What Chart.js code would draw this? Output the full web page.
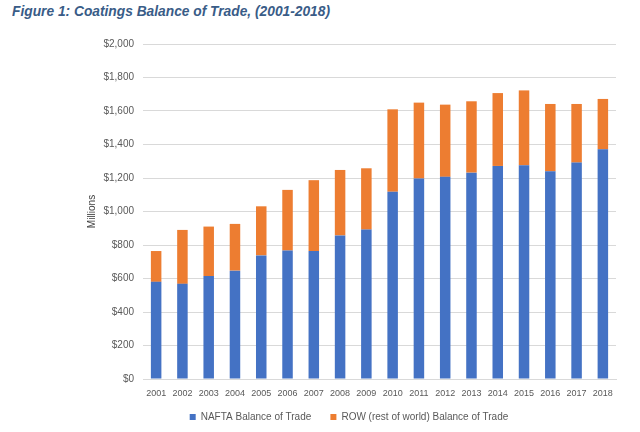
<!DOCTYPE html>
<html>
<head>
<meta charset="utf-8">
<script src="https://cdn.jsdelivr.net/npm/chart.js@4.4.1/dist/chart.umd.min.js"></script>
<style>
  html, body { margin: 0; padding: 0; background: #ffffff; }
  #wrap { position: relative; width: 640px; height: 432px; overflow: hidden; }
  #title {
    position: absolute; left: 12px; top: 2px;
    font-family: "Liberation Sans", Arial, sans-serif;
    font-weight: bold; font-style: italic; font-size: 15px; color: #395C87;
    white-space: nowrap; transform-origin: 0 0;
  }
  canvas { position: absolute; left: 0; top: 0; }
</style>
</head>
<body>
<div id="wrap">
  <span id="title">Figure 1: Coatings Balance of Trade, (2001-2018)</span>
  <canvas id="c" width="640" height="432"></canvas>
</div>
<script>
const years = ["2001","2002","2003","2004","2005","2006","2007","2008","2009","2010","2011","2012","2013","2014","2015","2016","2017","2018"];
const naftaBalance = [580, 568, 615, 647, 738, 767, 764, 857, 892, 1118, 1197, 1207, 1232, 1272, 1276, 1240, 1292, 1371];
const rowBalance   = [184, 322, 295, 279, 293, 362, 423, 391, 366, 492, 453, 431, 426, 435, 447, 402, 350, 301];
const yTicks = [0, 200, 400, 600, 800, 1000, 1200, 1400, 1600, 1800, 2000];

// condense the title to the reference width
const t = document.getElementById('title');
t.style.display = 'inline-block';
t.style.transform = 'scaleX(' + (318 / t.getBoundingClientRect().width) + ')';

const FONT = '"Liberation Sans", Arial, sans-serif';
const grey = '#595959';

new Chart(document.getElementById('c'), {
  type: 'bar',
  data: {
    labels: years,
    datasets: [
      { label: 'NAFTA Balance of Trade', data: naftaBalance, backgroundColor: '#4472C4', barPercentage: 0.4, categoryPercentage: 1.0 },
      { label: 'ROW (rest of world) Balance of Trade', data: rowBalance, backgroundColor: '#ED7D31', barPercentage: 0.4, categoryPercentage: 1.0 }
    ]
  },
  options: {
    responsive: false,
    animation: false,
    layout: { padding: { left: 82, right: 24, top: 44, bottom: 0 } },
    scales: {
      x: {
        stacked: true,
        grid: { display: false, drawTicks: false },
        border: { display: true, color: '#d9d9d9' },
        ticks: { color: grey, font: { family: FONT, size: 9 }, padding: 9, maxRotation: 0, autoSkip: false },
        afterFit: s => { s.height = 25; }
      },
      y: {
        stacked: true,
        min: 0, max: 2000,
        afterBuildTicks: s => { s.ticks = yTicks.map(v => ({ value: v })); },
        grid: { color: '#d9d9d9', drawTicks: false },
        border: { display: false },
        ticks: { color: grey, font: { family: FONT, size: 10 }, padding: 9,
                 callback: v => '$' + v.toLocaleString('en-US') },
        title: { display: true, text: 'Millions', color: '#404040', font: { family: FONT, size: 10 }, padding: { top: 4, bottom: 4 } },
        afterFit: s => { s.width = 61; }
      }
    },
    plugins: {
      legend: {
        position: 'bottom',
        labels: {
          color: grey, font: { family: FONT, size: 10 }, boxWidth: 6, boxHeight: 6, padding: 8,
          generateLabels: chart => {
            const items = Chart.defaults.plugins.legend.labels.generateLabels(chart);
            items.forEach((it, i) => { if (i === 0) it.text = it.text + '    '; });
            return items;
          }
        }
      },
      tooltip: { enabled: false }
    }
  }
});
</script>
</body>
</html>
